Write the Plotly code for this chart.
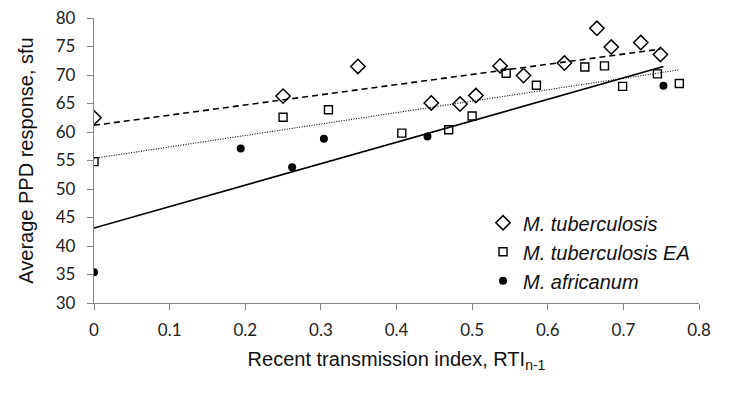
import numpy as np
import plotly.graph_objects as go

# M. tuberculosis (diamonds)
mtb_x = [0.0, 0.25, 0.349, 0.446, 0.484, 0.505, 0.537, 0.568, 0.622, 0.665, 0.684, 0.723, 0.749]
mtb_y = [62.5, 66.3, 71.5, 65.1, 64.9, 66.4, 71.6, 69.9, 72.1, 78.2, 74.9, 75.7, 73.6]

# M. tuberculosis EA (squares)
ea_x = [0.0, 0.25, 0.31, 0.407, 0.469, 0.5, 0.545, 0.585, 0.649, 0.675, 0.699, 0.745, 0.774]
ea_y = [54.8, 62.6, 63.9, 59.8, 60.4, 62.8, 70.3, 68.2, 71.4, 71.6, 68.0, 70.2, 68.5]

# M. africanum (filled circles)
maf_x = [0.0, 0.194, 0.262, 0.304, 0.441, 0.753]
maf_y = [35.4, 57.1, 53.8, 58.8, 59.2, 68.1]

x_ticks = [0, 0.1, 0.2, 0.3, 0.4, 0.5, 0.6, 0.7, 0.8]
y_ticks = [30, 35, 40, 45, 50, 55, 60, 65, 70, 75, 80]

names = ["<i>M. tuberculosis</i>", "<i>M. tuberculosis EA</i>", "<i>M. africanum</i>"]


def trend(xs, ys):
    k, b = np.polyfit(xs, ys, 1)
    x0, x1 = min(xs), max(xs)
    return [x0, x1], [k * x0 + b, k * x1 + b]


fig = go.Figure()

# trendlines
for xs, ys, dash, w in [(mtb_x, mtb_y, "6px,4px", 1.6), (ea_x, ea_y, "1px,1.5px", 1.1), (maf_x, maf_y, "solid", 1.6)]:
    tx, ty = trend(xs, ys)
    fig.add_trace(go.Scatter(x=tx, y=ty, mode="lines", showlegend=False, hoverinfo="skip",
                             line=dict(color="black", width=w, dash=dash)))

fig.add_trace(go.Scatter(x=mtb_x, y=mtb_y, mode="markers", name=names[0],
                         marker=dict(symbol="diamond-open", size=11, color="black", line=dict(width=1.5, color="black"))))
fig.add_trace(go.Scatter(x=ea_x, y=ea_y, mode="markers", name=names[1],
                         marker=dict(symbol="square-open", size=8, color="black", line=dict(width=1.4, color="black"))))
fig.add_trace(go.Scatter(x=maf_x, y=maf_y, mode="markers", name=names[2],
                         marker=dict(symbol="circle", size=8, color="black")))

axis_common = dict(showgrid=False, zeroline=False, showline=True, linecolor="#868686", linewidth=1.3,
                   ticks="outside", ticklen=6, tickcolor="#868686", tickwidth=1.3, automargin=False,
                   ticklabeloverflow="allow",
                   tickfont=dict(family="Lato, Open Sans, sans-serif", size=17, color="#222"))

fig.update_xaxes(range=[0, 0.8], tickvals=x_ticks, ticktext=[f"{v:g}" for v in x_ticks],
                 ticklabelstandoff=5,
                 title=dict(text="Recent transmission index, RTI<sub>n-1</sub>",
                            font=dict(family="Liberation Sans, Arial, sans-serif", size=20, color="#111"),
                            standoff=13),
                 **axis_common)
fig.update_yaxes(range=[30, 80], tickvals=y_ticks,
                 ticklabelstandoff=8,
                 title=dict(text="Average PPD response, sfu",
                            font=dict(family="Liberation Sans, Arial, sans-serif", size=20, color="#111"),
                            standoff=16),
                 **axis_common)

# page body has an 8px margin: shift the figure so the plot area lands where the reference has it
fig.update_layout(
    width=734, height=387,
    margin=dict(l=86, r=43, t=10, b=92),
    plot_bgcolor="white", paper_bgcolor="white",
    legend=dict(x=0.643, y=0.35, xanchor="left", yanchor="top",
                font=dict(family="Liberation Sans, Arial, sans-serif", size=20, color="#111"),
                bgcolor="rgba(0,0,0,0)", itemwidth=30, tracegroupgap=0),
)

fig.write_html("out.html")
